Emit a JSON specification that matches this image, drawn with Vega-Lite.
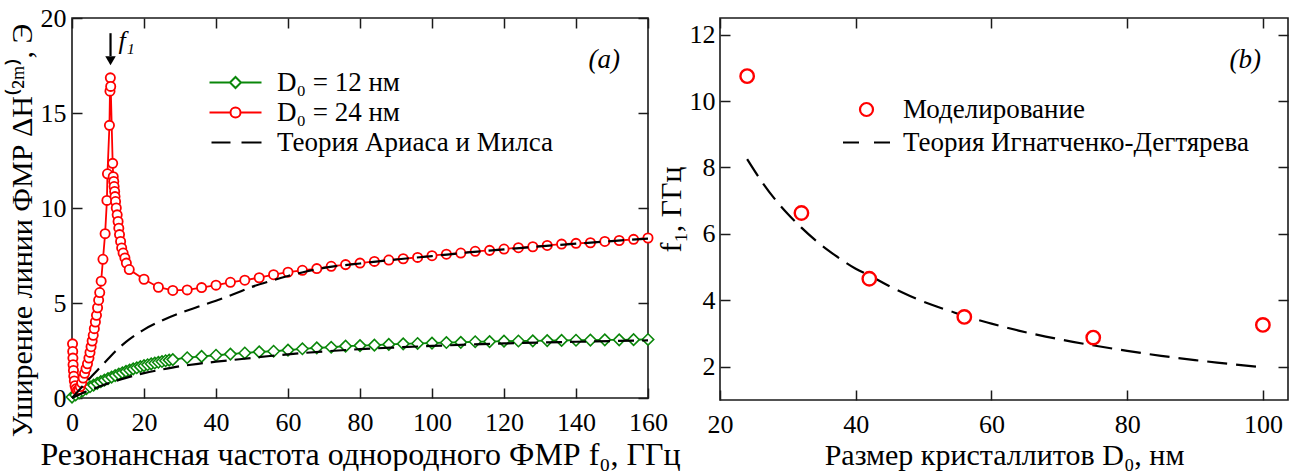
{
  "$schema": "https://vega.github.io/schema/vega-lite/v6.json",
  "padding": {"left": 6, "top": 4, "right": 2, "bottom": 0},
  "background": "white",
  "config": {
    "font": "Liberation Serif",
    "view": {"stroke": "#1a1a1a", "strokeWidth": 1.6},
    "axis": {"labelFont": "Liberation Serif", "labelFontSize": 26, "labelColor": "#000", "labelFlush": false, "labelOverlap": false, "titleFont": "Liberation Serif", "titleFontSize": 30, "titleFontWeight": "normal", "titleColor": "#000", "tickColor": "#1a1a1a", "tickWidth": 1.5, "tickSize": -10, "grid": false, "domain": false},
    "legend": {"labelFont": "Liberation Serif", "labelFontSize": 27, "labelColor": "#000", "labelLimit": 600}
  },
  "resolve": {"scale": {"color": "independent", "shape": "independent"}, "legend": {"color": "independent", "shape": "independent"}},
  "datasets": {
    "left": [
      {"f":0.15,"v":2.85,"c":"sim24","s":"D₀ = 24 нм"},{"f":0.2,"v":2.45,"c":"sim24","s":"D₀ = 24 нм"},{"f":0.25,"v":2.1,"c":"sim24","s":"D₀ = 24 нм"},{"f":0.3,"v":1.75,"c":"sim24","s":"D₀ = 24 нм"},{"f":0.4,"v":1.45,"c":"sim24","s":"D₀ = 24 нм"},{"f":0.5,"v":1.15,"c":"sim24","s":"D₀ = 24 нм"},{"f":0.65,"v":0.9,"c":"sim24","s":"D₀ = 24 нм"},{"f":0.85,"v":0.65,"c":"sim24","s":"D₀ = 24 нм"},{"f":1.1,"v":0.48,"c":"sim24","s":"D₀ = 24 нм"},{"f":1.5,"v":0.4,"c":"sim24","s":"D₀ = 24 нм"},{"f":1.9,"v":0.45,"c":"sim24","s":"D₀ = 24 нм"},{"f":2.3,"v":0.6,"c":"sim24","s":"D₀ = 24 нм"},{"f":2.7,"v":0.8,"c":"sim24","s":"D₀ = 24 нм"},{"f":3.1,"v":1.05,"c":"sim24","s":"D₀ = 24 нм"},{"f":3.5,"v":1.3,"c":"sim24","s":"D₀ = 24 нм"},{"f":3.9,"v":1.55,"c":"sim24","s":"D₀ = 24 нм"},{"f":4.3,"v":1.8,"c":"sim24","s":"D₀ = 24 нм"},{"f":4.7,"v":2.1,"c":"sim24","s":"D₀ = 24 нм"},{"f":5.0,"v":2.4,"c":"sim24","s":"D₀ = 24 нм"},{"f":5.3,"v":2.7,"c":"sim24","s":"D₀ = 24 нм"},{"f":5.6,"v":3.0,"c":"sim24","s":"D₀ = 24 нм"},{"f":5.9,"v":3.3,"c":"sim24","s":"D₀ = 24 нм"},{"f":6.2,"v":3.65,"c":"sim24","s":"D₀ = 24 нм"},{"f":6.5,"v":4.0,"c":"sim24","s":"D₀ = 24 нм"},{"f":6.8,"v":4.35,"c":"sim24","s":"D₀ = 24 нм"},{"f":7.1,"v":4.75,"c":"sim24","s":"D₀ = 24 нм"},{"f":7.4,"v":5.15,"c":"sim24","s":"D₀ = 24 нм"},{"f":7.7,"v":5.55,"c":"sim24","s":"D₀ = 24 нм"},{"f":8.1,"v":6.15,"c":"sim24","s":"D₀ = 24 нм"},{"f":8.6,"v":7.3,"c":"sim24","s":"D₀ = 24 нм"},{"f":9.2,"v":8.65,"c":"sim24","s":"D₀ = 24 нм"},{"f":9.7,"v":10.4,"c":"sim24","s":"D₀ = 24 нм"},{"f":9.85,"v":11.8,"c":"sim24","s":"D₀ = 24 нм"},{"f":10.4,"v":14.35,"c":"sim24","s":"D₀ = 24 нм"},{"f":10.55,"v":16.15,"c":"sim24","s":"D₀ = 24 нм"},{"f":10.65,"v":16.85,"c":"sim24","s":"D₀ = 24 нм"},{"f":10.75,"v":16.4,"c":"sim24","s":"D₀ = 24 нм"},{"f":11.3,"v":12.35,"c":"sim24","s":"D₀ = 24 нм"},{"f":11.45,"v":11.65,"c":"sim24","s":"D₀ = 24 нм"},{"f":11.6,"v":11.4,"c":"sim24","s":"D₀ = 24 нм"},{"f":11.7,"v":11.13,"c":"sim24","s":"D₀ = 24 нм"},{"f":11.85,"v":10.87,"c":"sim24","s":"D₀ = 24 нм"},{"f":11.95,"v":10.6,"c":"sim24","s":"D₀ = 24 нм"},{"f":12.1,"v":10.34,"c":"sim24","s":"D₀ = 24 нм"},{"f":12.3,"v":10.0,"c":"sim24","s":"D₀ = 24 нм"},{"f":12.55,"v":9.64,"c":"sim24","s":"D₀ = 24 нм"},{"f":12.8,"v":9.29,"c":"sim24","s":"D₀ = 24 нм"},{"f":13.0,"v":8.94,"c":"sim24","s":"D₀ = 24 нм"},{"f":13.2,"v":8.6,"c":"sim24","s":"D₀ = 24 нм"},{"f":13.5,"v":8.24,"c":"sim24","s":"D₀ = 24 нм"},{"f":13.8,"v":7.9,"c":"sim24","s":"D₀ = 24 нм"},{"f":14.2,"v":7.63,"c":"sim24","s":"D₀ = 24 нм"},{"f":14.7,"v":7.37,"c":"sim24","s":"D₀ = 24 нм"},{"f":15.1,"v":7.1,"c":"sim24","s":"D₀ = 24 нм"},{"f":15.9,"v":6.76,"c":"sim24","s":"D₀ = 24 нм"},{"f":20,"v":6.25,"c":"sim24","s":"D₀ = 24 нм"},{"f":24,"v":5.83,"c":"sim24","s":"D₀ = 24 нм"},{"f":28,"v":5.66,"c":"sim24","s":"D₀ = 24 нм"},{"f":32,"v":5.69,"c":"sim24","s":"D₀ = 24 нм"},{"f":36,"v":5.81,"c":"sim24","s":"D₀ = 24 нм"},{"f":40,"v":5.94,"c":"sim24","s":"D₀ = 24 нм"},{"f":44,"v":6.09,"c":"sim24","s":"D₀ = 24 нм"},{"f":48,"v":6.2,"c":"sim24","s":"D₀ = 24 нм"},{"f":52,"v":6.33,"c":"sim24","s":"D₀ = 24 нм"},{"f":56,"v":6.49,"c":"sim24","s":"D₀ = 24 нм"},{"f":60,"v":6.62,"c":"sim24","s":"D₀ = 24 нм"},{"f":64,"v":6.72,"c":"sim24","s":"D₀ = 24 нм"},{"f":68,"v":6.81,"c":"sim24","s":"D₀ = 24 нм"},{"f":72,"v":6.93,"c":"sim24","s":"D₀ = 24 нм"},{"f":76,"v":7.02,"c":"sim24","s":"D₀ = 24 нм"},{"f":80,"v":7.1,"c":"sim24","s":"D₀ = 24 нм"},{"f":84,"v":7.19,"c":"sim24","s":"D₀ = 24 нм"},{"f":88,"v":7.26,"c":"sim24","s":"D₀ = 24 нм"},{"f":92,"v":7.33,"c":"sim24","s":"D₀ = 24 нм"},{"f":96,"v":7.4,"c":"sim24","s":"D₀ = 24 нм"},{"f":100,"v":7.49,"c":"sim24","s":"D₀ = 24 нм"},{"f":104,"v":7.57,"c":"sim24","s":"D₀ = 24 нм"},{"f":108,"v":7.63,"c":"sim24","s":"D₀ = 24 нм"},{"f":112,"v":7.72,"c":"sim24","s":"D₀ = 24 нм"},{"f":116,"v":7.77,"c":"sim24","s":"D₀ = 24 нм"},{"f":120,"v":7.84,"c":"sim24","s":"D₀ = 24 нм"},{"f":124,"v":7.91,"c":"sim24","s":"D₀ = 24 нм"},{"f":128,"v":7.96,"c":"sim24","s":"D₀ = 24 нм"},{"f":132,"v":8.03,"c":"sim24","s":"D₀ = 24 нм"},{"f":136,"v":8.1,"c":"sim24","s":"D₀ = 24 нм"},{"f":140,"v":8.14,"c":"sim24","s":"D₀ = 24 нм"},{"f":144,"v":8.17,"c":"sim24","s":"D₀ = 24 нм"},{"f":148,"v":8.24,"c":"sim24","s":"D₀ = 24 нм"},{"f":152,"v":8.29,"c":"sim24","s":"D₀ = 24 нм"},{"f":156,"v":8.35,"c":"sim24","s":"D₀ = 24 нм"},{"f":160,"v":8.42,"c":"sim24","s":"D₀ = 24 нм"},
      {"f":0,"v":0.05,"c":"sim12","s":"D₀ = 12 нм"},{"f":1,"v":0.16,"c":"sim12","s":"D₀ = 12 нм"},{"f":2,"v":0.27,"c":"sim12","s":"D₀ = 12 нм"},{"f":3,"v":0.38,"c":"sim12","s":"D₀ = 12 нм"},{"f":4,"v":0.49,"c":"sim12","s":"D₀ = 12 нм"},{"f":5,"v":0.59,"c":"sim12","s":"D₀ = 12 нм"},{"f":6,"v":0.68,"c":"sim12","s":"D₀ = 12 нм"},{"f":7,"v":0.77,"c":"sim12","s":"D₀ = 12 нм"},{"f":8,"v":0.86,"c":"sim12","s":"D₀ = 12 нм"},{"f":9,"v":0.94,"c":"sim12","s":"D₀ = 12 нм"},{"f":10,"v":1.02,"c":"sim12","s":"D₀ = 12 нм"},{"f":11,"v":1.1,"c":"sim12","s":"D₀ = 12 нм"},{"f":12,"v":1.18,"c":"sim12","s":"D₀ = 12 нм"},{"f":13,"v":1.26,"c":"sim12","s":"D₀ = 12 нм"},{"f":14,"v":1.33,"c":"sim12","s":"D₀ = 12 нм"},{"f":15,"v":1.4,"c":"sim12","s":"D₀ = 12 нм"},{"f":16,"v":1.47,"c":"sim12","s":"D₀ = 12 нм"},{"f":17,"v":1.53,"c":"sim12","s":"D₀ = 12 нм"},{"f":18,"v":1.59,"c":"sim12","s":"D₀ = 12 нм"},{"f":19,"v":1.65,"c":"sim12","s":"D₀ = 12 нм"},{"f":20,"v":1.7,"c":"sim12","s":"D₀ = 12 нм"},{"f":21,"v":1.75,"c":"sim12","s":"D₀ = 12 нм"},{"f":22,"v":1.8,"c":"sim12","s":"D₀ = 12 нм"},{"f":23,"v":1.84,"c":"sim12","s":"D₀ = 12 нм"},{"f":24,"v":1.88,"c":"sim12","s":"D₀ = 12 нм"},{"f":25,"v":1.92,"c":"sim12","s":"D₀ = 12 нм"},{"f":26,"v":1.96,"c":"sim12","s":"D₀ = 12 нм"},{"f":27,"v":1.99,"c":"sim12","s":"D₀ = 12 нм"},{"f":28,"v":2.02,"c":"sim12","s":"D₀ = 12 нм"},{"f":32,"v":2.12,"c":"sim12","s":"D₀ = 12 нм"},{"f":36,"v":2.19,"c":"sim12","s":"D₀ = 12 нм"},{"f":40,"v":2.25,"c":"sim12","s":"D₀ = 12 нм"},{"f":44,"v":2.31,"c":"sim12","s":"D₀ = 12 нм"},{"f":48,"v":2.37,"c":"sim12","s":"D₀ = 12 нм"},{"f":52,"v":2.43,"c":"sim12","s":"D₀ = 12 нм"},{"f":56,"v":2.46,"c":"sim12","s":"D₀ = 12 нм"},{"f":60,"v":2.52,"c":"sim12","s":"D₀ = 12 нм"},{"f":64,"v":2.59,"c":"sim12","s":"D₀ = 12 нм"},{"f":68,"v":2.64,"c":"sim12","s":"D₀ = 12 нм"},{"f":72,"v":2.67,"c":"sim12","s":"D₀ = 12 нм"},{"f":76,"v":2.73,"c":"sim12","s":"D₀ = 12 нм"},{"f":80,"v":2.76,"c":"sim12","s":"D₀ = 12 нм"},{"f":84,"v":2.78,"c":"sim12","s":"D₀ = 12 нм"},{"f":88,"v":2.82,"c":"sim12","s":"D₀ = 12 нм"},{"f":92,"v":2.85,"c":"sim12","s":"D₀ = 12 нм"},{"f":96,"v":2.87,"c":"sim12","s":"D₀ = 12 нм"},{"f":100,"v":2.89,"c":"sim12","s":"D₀ = 12 нм"},{"f":104,"v":2.92,"c":"sim12","s":"D₀ = 12 нм"},{"f":108,"v":2.93,"c":"sim12","s":"D₀ = 12 нм"},{"f":112,"v":2.96,"c":"sim12","s":"D₀ = 12 нм"},{"f":116,"v":2.97,"c":"sim12","s":"D₀ = 12 нм"},{"f":120,"v":2.99,"c":"sim12","s":"D₀ = 12 нм"},{"f":124,"v":3.0,"c":"sim12","s":"D₀ = 12 нм"},{"f":128,"v":3.01,"c":"sim12","s":"D₀ = 12 нм"},{"f":132,"v":3.02,"c":"sim12","s":"D₀ = 12 нм"},{"f":136,"v":3.03,"c":"sim12","s":"D₀ = 12 нм"},{"f":140,"v":3.04,"c":"sim12","s":"D₀ = 12 нм"},{"f":144,"v":3.05,"c":"sim12","s":"D₀ = 12 нм"},{"f":148,"v":3.06,"c":"sim12","s":"D₀ = 12 нм"},{"f":152,"v":3.06,"c":"sim12","s":"D₀ = 12 нм"},{"f":156,"v":3.07,"c":"sim12","s":"D₀ = 12 нм"},{"f":160,"v":3.08,"c":"sim12","s":"D₀ = 12 нм"},
      {"f":0,"v":0,"c":"th12","s":"Теория Ариаса и Милса"},{"f":2,"v":0.18,"c":"th12","s":"Теория Ариаса и Милса"},{"f":4,"v":0.34,"c":"th12","s":"Теория Ариаса и Милса"},{"f":6,"v":0.49,"c":"th12","s":"Теория Ариаса и Милса"},{"f":8,"v":0.63,"c":"th12","s":"Теория Ариаса и Милса"},{"f":10,"v":0.77,"c":"th12","s":"Теория Ариаса и Милса"},{"f":12,"v":0.89,"c":"th12","s":"Теория Ариаса и Милса"},{"f":15,"v":1.06,"c":"th12","s":"Теория Ариаса и Милса"},{"f":20,"v":1.31,"c":"th12","s":"Теория Ариаса и Милса"},{"f":25,"v":1.5,"c":"th12","s":"Теория Ариаса и Милса"},{"f":30,"v":1.67,"c":"th12","s":"Теория Ариаса и Милса"},{"f":35,"v":1.8,"c":"th12","s":"Теория Ариаса и Милса"},{"f":40,"v":1.91,"c":"th12","s":"Теория Ариаса и Милса"},{"f":45,"v":2.01,"c":"th12","s":"Теория Ариаса и Милса"},{"f":50,"v":2.11,"c":"th12","s":"Теория Ариаса и Милса"},{"f":55,"v":2.21,"c":"th12","s":"Теория Ариаса и Милса"},{"f":60,"v":2.3,"c":"th12","s":"Теория Ариаса и Милса"},{"f":70,"v":2.45,"c":"th12","s":"Теория Ариаса и Милса"},{"f":80,"v":2.57,"c":"th12","s":"Теория Ариаса и Милса"},{"f":90,"v":2.66,"c":"th12","s":"Теория Ариаса и Милса"},{"f":100,"v":2.74,"c":"th12","s":"Теория Ариаса и Милса"},{"f":110,"v":2.81,"c":"th12","s":"Теория Ариаса и Милса"},{"f":120,"v":2.87,"c":"th12","s":"Теория Ариаса и Милса"},{"f":130,"v":2.92,"c":"th12","s":"Теория Ариаса и Милса"},{"f":140,"v":2.96,"c":"th12","s":"Теория Ариаса и Милса"},{"f":150,"v":3.0,"c":"th12","s":"Теория Ариаса и Милса"},{"f":160,"v":3.03,"c":"th12","s":"Теория Ариаса и Милса"},
      {"f":0,"v":0,"c":"th24","s":"Теория Ариаса и Милса"},{"f":2,"v":0.42,"c":"th24","s":"Теория Ариаса и Милса"},{"f":4,"v":0.85,"c":"th24","s":"Теория Ариаса и Милса"},{"f":6,"v":1.25,"c":"th24","s":"Теория Ариаса и Милса"},{"f":8,"v":1.65,"c":"th24","s":"Теория Ариаса и Милса"},{"f":10,"v":2.05,"c":"th24","s":"Теория Ариаса и Милса"},{"f":12,"v":2.45,"c":"th24","s":"Теория Ариаса и Милса"},{"f":15,"v":2.95,"c":"th24","s":"Теория Ариаса и Милса"},{"f":20,"v":3.6,"c":"th24","s":"Теория Ариаса и Милса"},{"f":25,"v":4.08,"c":"th24","s":"Теория Ариаса и Милса"},{"f":30,"v":4.47,"c":"th24","s":"Теория Ариаса и Милса"},{"f":35,"v":4.8,"c":"th24","s":"Теория Ариаса и Милса"},{"f":40,"v":5.12,"c":"th24","s":"Теория Ариаса и Милса"},{"f":45,"v":5.47,"c":"th24","s":"Теория Ариаса и Милса"},{"f":50,"v":5.85,"c":"th24","s":"Теория Ариаса и Милса"},{"f":55,"v":6.15,"c":"th24","s":"Теория Ариаса и Милса"},{"f":60,"v":6.42,"c":"th24","s":"Теория Ариаса и Милса"},{"f":65,"v":6.66,"c":"th24","s":"Теория Ариаса и Милса"},{"f":70,"v":6.85,"c":"th24","s":"Теория Ариаса и Милса"},{"f":80,"v":7.08,"c":"th24","s":"Теория Ариаса и Милса"},{"f":90,"v":7.29,"c":"th24","s":"Теория Ариаса и Милса"},{"f":100,"v":7.47,"c":"th24","s":"Теория Ариаса и Милса"},{"f":110,"v":7.66,"c":"th24","s":"Теория Ариаса и Милса"},{"f":120,"v":7.82,"c":"th24","s":"Теория Ариаса и Милса"},{"f":130,"v":7.98,"c":"th24","s":"Теория Ариаса и Милса"},{"f":140,"v":8.12,"c":"th24","s":"Теория Ариаса и Милса"},{"f":150,"v":8.26,"c":"th24","s":"Теория Ариаса и Милса"},{"f":160,"v":8.39,"c":"th24","s":"Теория Ариаса и Милса"}
    ],
    "right": [
      {"D":24,"f1":10.75,"s":"Моделирование"},{"D":32,"f1":6.63,"s":"Моделирование"},{"D":42,"f1":4.65,"s":"Моделирование"},{"D":56,"f1":3.5,"s":"Моделирование"},{"D":75,"f1":2.88,"s":"Моделирование"},{"D":100,"f1":3.26,"s":"Моделирование"},
      {"D":24,"f1":8.25,"s":"Теория Игнатченко-Дегтярева"},{"D":26,"f1":7.62,"s":"Теория Игнатченко-Дегтярева"},{"D":28,"f1":7.07,"s":"Теория Игнатченко-Дегтярева"},{"D":30,"f1":6.6,"s":"Теория Игнатченко-Дегтярева"},{"D":32,"f1":6.19,"s":"Теория Игнатченко-Дегтярева"},{"D":34,"f1":5.82,"s":"Теория Игнатченко-Дегтярева"},{"D":36,"f1":5.5,"s":"Теория Игнатченко-Дегтярева"},{"D":38,"f1":5.21,"s":"Теория Игнатченко-Дегтярева"},{"D":40,"f1":4.95,"s":"Теория Игнатченко-Дегтярева"},{"D":42,"f1":4.75,"s":"Теория Игнатченко-Дегтярева"},{"D":45,"f1":4.42,"s":"Теория Игнатченко-Дегтярева"},{"D":48,"f1":4.13,"s":"Теория Игнатченко-Дегтярева"},{"D":51,"f1":3.88,"s":"Теория Игнатченко-Дегтярева"},{"D":54,"f1":3.67,"s":"Теория Игнатченко-Дегтярева"},{"D":57,"f1":3.47,"s":"Теория Игнатченко-Дегтярева"},{"D":60,"f1":3.3,"s":"Теория Игнатченко-Дегтярева"},{"D":64,"f1":3.09,"s":"Теория Игнатченко-Дегтярева"},{"D":68,"f1":2.91,"s":"Теория Игнатченко-Дегтярева"},{"D":72,"f1":2.75,"s":"Теория Игнатченко-Дегтярева"},{"D":76,"f1":2.61,"s":"Теория Игнатченко-Дегтярева"},{"D":80,"f1":2.48,"s":"Теория Игнатченко-Дегтярева"},{"D":85,"f1":2.33,"s":"Теория Игнатченко-Дегтярева"},{"D":90,"f1":2.2,"s":"Теория Игнатченко-Дегтярева"},{"D":95,"f1":2.09,"s":"Теория Игнатченко-Дегтярева"},{"D":100,"f1":1.98,"s":"Теория Игнатченко-Дегтярева"}
    ]
  },
  "bounds": "flush",
  "spacing": 72,
  "hconcat": [
    {
      "width": 576,
      "height": 380,
      "data": {"name": "left"},
      "resolve": {"axis": {"x": "independent", "y": "independent"}},
      "layer": [
        {
          "transform": [{"filter": "datum.c === 'sim12'"}],
          "mark": {"type": "line", "color": "#0a870a", "strokeWidth": 1.8},
          "encoding": {
            "x": {"field": "f", "type": "quantitative", "scale": {"domain": [0, 160], "nice": false, "zero": false},
                  "axis": {"orient": "bottom", "values": [0, 20, 40, 60, 80, 100, 120, 140, 160], "title": "Резонансная частота однородного ФМР f₀, ГГц", "titleFontSize": 32, "labelPadding": 21, "titlePadding": 4}},
            "y": {"field": "v", "type": "quantitative", "scale": {"domain": [0, 20], "nice": false, "zero": false},
                  "axis": {"orient": "left", "values": [0, 5, 10, 15, 20], "title": "Уширение линии ФМР ΔH⁽²ᵐ⁾, Э", "titleY": 212, "labelPadding": 16, "titlePadding": 3}}
          }
        },
        {
          "transform": [{"filter": "datum.c === 'sim24'"}],
          "mark": {"type": "line", "color": "#ff0000", "strokeWidth": 1.8},
          "encoding": {
            "x": {"field": "f", "type": "quantitative", "axis": {"orient": "top", "values": [0, 20, 40, 60, 80, 100, 120, 140, 160], "labels": false, "title": null}},
            "y": {"field": "v", "type": "quantitative", "axis": {"orient": "right", "values": [0, 5, 10, 15, 20], "labels": false, "title": null}}
          }
        },
        {
          "transform": [{"filter": "datum.c === 'sim12'"}],
          "mark": {"type": "point", "shape": "diamond", "filled": false, "fill": "white", "color": "#0a870a", "size": 130, "strokeWidth": 1.6, "opacity": 1},
          "encoding": {
            "x": {"field": "f", "type": "quantitative", "axis": null},
            "y": {"field": "v", "type": "quantitative", "axis": null}
          }
        },
        {
          "transform": [{"filter": "datum.c === 'sim24'"}],
          "mark": {"type": "point", "shape": "circle", "filled": false, "fill": "white", "color": "#ff0000", "size": 85, "strokeWidth": 1.8, "opacity": 1},
          "encoding": {
            "x": {"field": "f", "type": "quantitative", "axis": null},
            "y": {"field": "v", "type": "quantitative", "axis": null}
          }
        },
        {
          "transform": [{"filter": "datum.c === 'th12' || datum.c === 'th24'"}],
          "mark": {"type": "line", "color": "#000000", "strokeWidth": 2.2, "strokeDash": [16, 8], "interpolate": "monotone"},
          "encoding": {
            "x": {"field": "f", "type": "quantitative", "axis": null},
            "y": {"field": "v", "type": "quantitative", "axis": null},
            "detail": {"field": "c", "type": "nominal"}
          }
        },
        {
          "transform": [{"filter": "false"}],
          "mark": {"type": "point", "filled": false, "fill": "white", "strokeWidth": 2, "opacity": 1},
          "encoding": {
            "x": {"field": "f", "type": "quantitative", "axis": null},
            "y": {"field": "v", "type": "quantitative", "axis": null},
            "color": {"field": "s", "type": "nominal",
              "scale": {"domain": ["D₀ = 12 нм", "D₀ = 24 нм", "Теория Ариаса и Милса"], "range": ["#0a870a", "#ff0000", "#000000"]},
              "legend": {"title": null, "orient": "none", "legendX": 150, "legendY": 51, "direction": "vertical", "padding": 0,
                "symbolSize": 400, "symbolStrokeWidth": 2, "symbolOpacity": 1, "labelOffset": 28, "rowPadding": 2}},
            "shape": {"field": "s", "type": "nominal",
              "scale": {"domain": ["D₀ = 12 нм", "D₀ = 24 нм", "Теория Ариаса и Милса"],
                        "range": ["M-2.6,0H-0.55M0.55,0H2.6M-0.55,0L0,-0.55L0.55,0L0,0.55Z", "M-2.6,0H-0.5M0.5,0H2.6M0.5,0A0.5,0.5,0,1,1,-0.5,0A0.5,0.5,0,1,1,0.5,0Z", "M-2.4,0H-0.5M0.6,0H2.6"]},
              "legend": {"title": null, "orient": "none", "legendX": 150, "legendY": 51, "direction": "vertical", "padding": 0,
                "symbolSize": 400, "symbolStrokeWidth": 2, "symbolOpacity": 1, "labelOffset": 28, "rowPadding": 2}}
          }
        },
        {
          "data": {"values": [{"note": "f₁"}]},
          "mark": {"type": "rule", "color": "#000", "strokeWidth": 2.2},
          "encoding": {
            "x": {"datum": 10.7, "type": "quantitative", "axis": null},
            "y": {"datum": 19.2, "type": "quantitative", "axis": null},
            "y2": {"datum": 18.0}
          }
        },
        {
          "data": {"values": [{"note": "f₁"}]},
          "mark": {"type": "point", "shape": "triangle-down", "filled": true, "color": "#000", "size": 110, "opacity": 1},
          "encoding": {
            "x": {"datum": 10.7, "type": "quantitative", "axis": null},
            "y": {"datum": 17.75, "type": "quantitative", "axis": null}
          }
        },
        {
          "data": {"values": [{"note": "f₁"}]},
          "mark": {"type": "text", "font": "Liberation Serif", "fontSize": 26, "fontStyle": "italic", "align": "left", "baseline": "middle", "dx": 8, "color": "#000"},
          "encoding": {
            "x": {"datum": 10.7, "type": "quantitative", "axis": null},
            "y": {"datum": 18.8, "type": "quantitative", "axis": null},
            "text": {"field": "note"}
          }
        },
        {
          "data": {"values": [{"panel": "(a)"}]},
          "mark": {"type": "text", "font": "Liberation Serif", "fontSize": 27, "fontStyle": "italic", "align": "right", "baseline": "middle", "dx": -28, "dy": 42, "color": "#000"},
          "encoding": {
            "x": {"datum": 160, "type": "quantitative", "axis": null},
            "y": {"datum": 20, "type": "quantitative", "axis": null},
            "text": {"field": "panel"}
          }
        }
      ]
    },
    {
      "width": 568,
      "height": 382,
      "data": {"name": "right"},
      "resolve": {"axis": {"x": "independent", "y": "independent"}},
      "layer": [
        {
          "transform": [{"filter": "datum.s === 'Теория Игнатченко-Дегтярева'"}],
          "mark": {"type": "line", "color": "#000000", "strokeWidth": 2.2, "strokeDash": [20, 9], "interpolate": "monotone"},
          "encoding": {
            "x": {"field": "D", "type": "quantitative", "scale": {"domain": [20, 103.7], "nice": false, "zero": false},
                  "axis": {"orient": "bottom", "values": [20, 40, 60, 80, 100], "title": "Размер кристаллитов D₀, нм", "labelPadding": 21, "titlePadding": 3}},
            "y": {"field": "f1", "type": "quantitative", "scale": {"domain": [1, 12.5], "nice": false, "zero": false},
                  "axis": {"orient": "left", "values": [2, 4, 6, 8, 10, 12], "title": "f₁, ГГц", "labelPadding": 15, "titlePadding": 3}}
          }
        },
        {
          "transform": [{"filter": "datum.s === 'Моделирование'"}],
          "mark": {"type": "point", "shape": "circle", "filled": false, "fill": "white", "color": "#ff0000", "size": 180, "strokeWidth": 2.4, "opacity": 1},
          "encoding": {
            "x": {"field": "D", "type": "quantitative", "axis": {"orient": "top", "values": [20, 40, 60, 80, 100], "labels": false, "title": null}},
            "y": {"field": "f1", "type": "quantitative", "axis": {"orient": "right", "values": [2, 4, 6, 8, 10, 12], "labels": false, "title": null}}
          }
        },
        {
          "transform": [{"filter": "false"}],
          "mark": {"type": "point", "filled": false, "fill": "white", "strokeWidth": 2.2, "opacity": 1},
          "encoding": {
            "x": {"field": "D", "type": "quantitative", "axis": null},
            "y": {"field": "f1", "type": "quantitative", "axis": null},
            "color": {"field": "s", "type": "nominal",
              "scale": {"domain": ["Моделирование", "Теория Игнатченко-Дегтярева"], "range": ["#ff0000", "#000000"]},
              "legend": {"title": null, "orient": "none", "legendX": 133, "legendY": 78, "direction": "vertical", "padding": 0,
                "symbolSize": 400, "symbolStrokeWidth": 2.2, "symbolOpacity": 1, "labelOffset": 23, "rowPadding": 5}},
            "shape": {"field": "s", "type": "nominal",
              "scale": {"domain": ["Моделирование", "Теория Игнатченко-Дегтярева"],
                        "range": ["M0.65,0A0.65,0.65,0,1,1,-0.65,0A0.65,0.65,0,1,1,0.65,0Z", "M-2.35,0H-0.75M0.75,0H2.35"]},
              "legend": {"title": null, "orient": "none", "legendX": 133, "legendY": 78, "direction": "vertical", "padding": 0,
                "symbolSize": 400, "symbolStrokeWidth": 2.2, "symbolOpacity": 1, "labelOffset": 23, "rowPadding": 5}}
          }
        },
        {
          "data": {"values": [{"panel": "(b)"}]},
          "mark": {"type": "text", "font": "Liberation Serif", "fontSize": 27, "fontStyle": "italic", "align": "right", "baseline": "middle", "dx": -27, "dy": 42, "color": "#000"},
          "encoding": {
            "x": {"datum": 103.7, "type": "quantitative", "axis": null},
            "y": {"datum": 12.5, "type": "quantitative", "axis": null},
            "text": {"field": "panel"}
          }
        }
      ]
    }
  ]
}
